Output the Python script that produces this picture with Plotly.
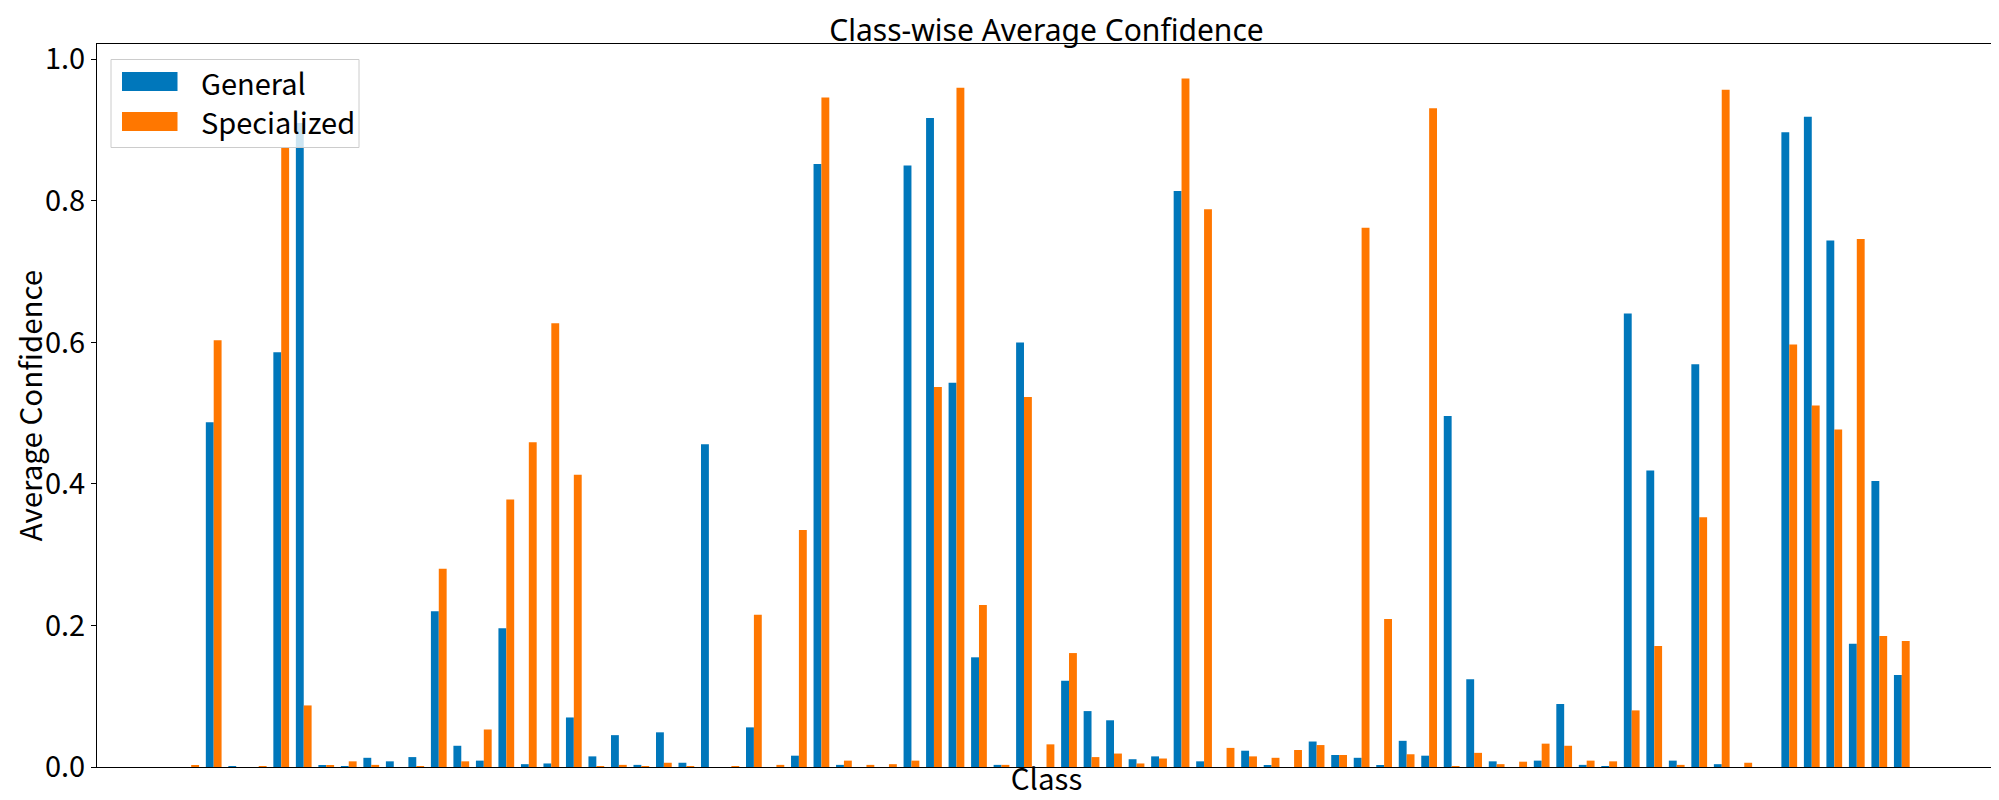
import plotly.graph_objects as go

# 77 classes
classes = list(range(77))

general = [
    0.0, 0.487, 0.001, 0.0, 0.586, 0.91, 0.002, 0.001, 0.013, 0.008,
    0.014, 0.220, 0.030, 0.009, 0.196, 0.004, 0.005, 0.070, 0.015, 0.045,
    0.003, 0.049, 0.006, 0.456, 0.0, 0.056, 0.0, 0.016, 0.852, 0.003,
    0.0, 0.0, 0.850, 0.917, 0.543, 0.155, 0.003, 0.600, 0.0, 0.122,
    0.079, 0.066, 0.011, 0.015, 0.814, 0.008, 0.0, 0.023, 0.0015, 0.0,
    0.036, 0.017, 0.013, 0.002, 0.037, 0.016, 0.496, 0.124, 0.008, 0.0,
    0.009, 0.089, 0.003, 0.001, 0.641, 0.419, 0.009, 0.569, 0.004, 0.0,
    0.0, 0.897, 0.919, 0.744, 0.174, 0.404, 0.130,
]

specialized = [
    0.002, 0.603, 0.0, 0.001, 0.876, 0.087, 0.002, 0.008, 0.003, 0.0,
    0.001, 0.280, 0.008, 0.053, 0.378, 0.459, 0.627, 0.413, 0.001, 0.003,
    0.001, 0.006, 0.001, 0.0, 0.001, 0.215, 0.003, 0.335, 0.946, 0.009,
    0.003, 0.004, 0.009, 0.537, 0.960, 0.229, 0.003, 0.523, 0.032, 0.161,
    0.014, 0.019, 0.005, 0.012, 0.973, 0.788, 0.027, 0.015, 0.013, 0.024,
    0.031, 0.017, 0.762, 0.209, 0.018, 0.931, 0.001, 0.020, 0.004, 0.0075,
    0.033, 0.030, 0.009, 0.008, 0.080, 0.171, 0.003, 0.353, 0.957, 0.006,
    0.0, 0.597, 0.511, 0.477, 0.746, 0.185, 0.178,
]

series_names = ['General', 'Specialized']
colors = ['#0077bb', '#ff7700']
chart_title = 'Class-wise Average Confidence'

FONT = 'Noto Sans CJK JP'
W, H = 1999, 800
# plot area in pixels (matplotlib axes box)
L, R, T, B = 89, 1988, 36, 759
PW, PH = R - L, B - T


def px(x):
    return (x - L) / PW


def py(y):
    return (B - y) / PH


fig = go.Figure()
for name, vals, c in zip(series_names, [general, specialized], colors):
    fig.add_trace(go.Bar(x=classes, y=vals, name=name, marker=dict(color=c, line=dict(width=0))))

# matplotlib-like autoscale: 5% margins on x, sticky zero on y
n = len(classes)
span = (n - 1) + 0.7
xr = [-0.35 - 0.05 * span, (n - 1) + 0.35 + 0.05 * span]
ymax = 1.05 * max(max(general), max(specialized))

# hand-made legend so the patches look like matplotlib's
shapes = [dict(type='rect', xref='paper', yref='paper',
               x0=px(103), x1=px(351), y0=py(139.5), y1=py(51.5),
               fillcolor='rgba(255,255,255,0.8)', line=dict(color='#cccccc', width=1),
               layer='above')]
annotations = []
rows = [73.5, 113.5]
for name, c, yc in zip(series_names, colors, rows):
    shapes.append(dict(type='rect', xref='paper', yref='paper',
                       x0=px(114), x1=px(169.5), y0=py(yc + 9.5), y1=py(yc - 9.5),
                       fillcolor=c, line=dict(width=0), layer='above'))
    annotations.append(dict(xref='paper', yref='paper', x=px(191), y=py(yc),
                            xanchor='left', yanchor='middle', text=name, showarrow=False,
                            font=dict(family=FONT, size=29, color='black')))

fig.update_layout(
    width=W, height=H,
    margin=dict(l=L, r=W - R, t=T, b=H - B, autoexpand=False),
    barmode='group', bargap=0.3, bargroupgap=0,
    showlegend=False,
    plot_bgcolor='white', paper_bgcolor='white',
    font=dict(family=FONT, size=29, color='black'),
    title=dict(text=chart_title, x=0.5, xref='paper', xanchor='center',
               y=1 - 32.5 / H, yref='container', yanchor='bottom', pad=dict(b=0, t=0),
               font=dict(family='Noto Sans', size=30, color='black')),
    shapes=shapes,
    annotations=annotations,
)

fig.update_xaxes(range=xr, showticklabels=False, ticks='', showgrid=False, zeroline=False,
                 showline=True, mirror=True, linecolor='black', linewidth=1,
                 title=dict(text='Class', standoff=2, font=dict(size=29.5)))
fig.update_yaxes(range=[0, ymax], tick0=0, dtick=0.2, tickformat='.1f',
                 ticks='outside', ticklen=5, tickwidth=1, tickcolor='black',
                 showgrid=False, zeroline=False,
                 showline=True, mirror=True, linecolor='black', linewidth=1,
                 tickfont=dict(size=29),
                 title=dict(text='Average Confidence', standoff=17, font=dict(size=29.5)))

fig.write_html('out.html')
